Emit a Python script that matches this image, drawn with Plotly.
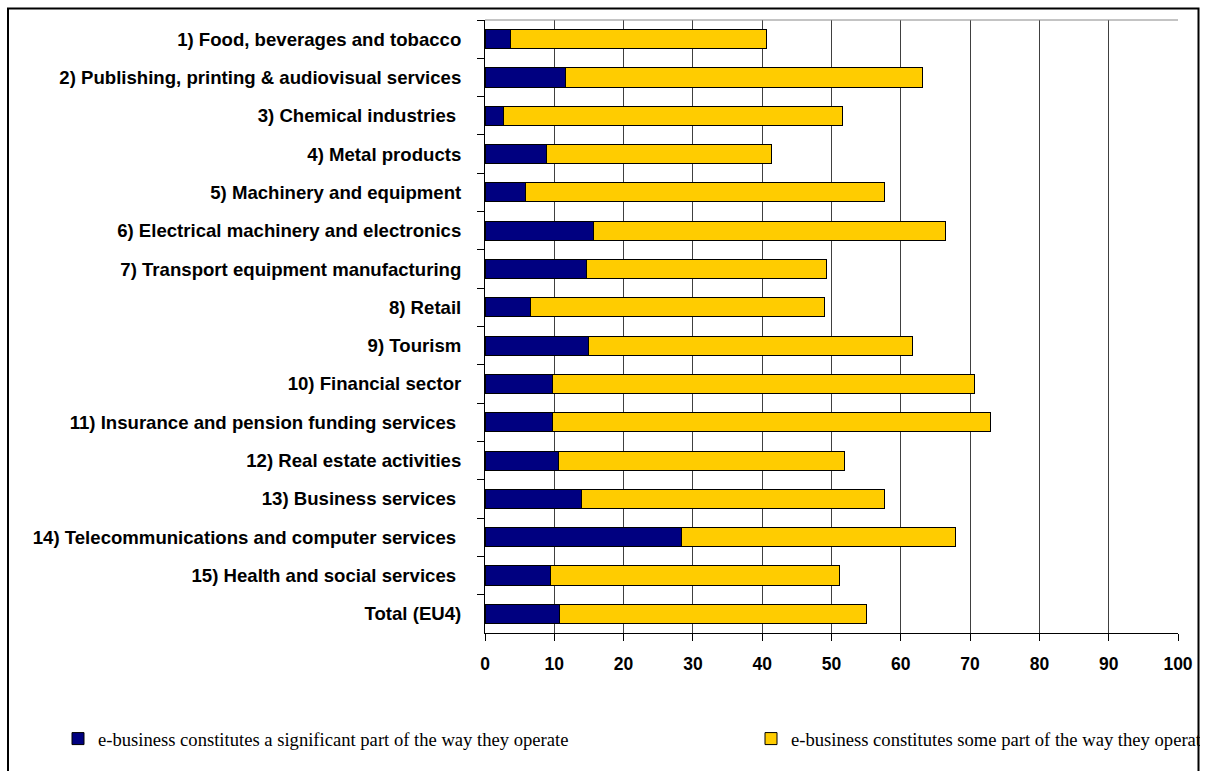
import plotly.graph_objects as go

# Sector labels, top to bottom
sectors = [
    "1) Food, beverages and tobacco",
    "2) Publishing, printing & audiovisual services",
    "3) Chemical industries ",
    "4) Metal products",
    "5) Machinery and equipment",
    "6) Electrical machinery and electronics",
    "7) Transport equipment manufacturing",
    "8) Retail",
    "9) Tourism",
    "10) Financial sector",
    "11) Insurance and pension funding services ",
    "12) Real estate activities",
    "13) Business services ",
    "14) Telecommunications and computer services ",
    "15) Health and social services ",
    "Total (EU4)",
]

# Share of enterprises (%) where e-business is a significant part of operations
significant_part = [3.7, 11.6, 2.7, 8.9, 5.8, 15.7, 14.6, 6.5, 14.9, 9.7, 9.7, 10.6, 13.9, 28.3, 9.4, 10.8]
# Share of enterprises (%) where e-business is some part of operations
some_part = [36.9, 51.5, 48.9, 32.4, 51.8, 50.8, 34.7, 42.5, 46.8, 60.9, 63.3, 41.3, 43.7, 39.6, 41.7, 44.2]

x_ticks = list(range(0, 101, 10))

name_significant = "e-business constitutes a significant part of the way they operate"
name_some = "e-business constitutes some part of the way they operate"

W, H = 1200, 771
ML, MR, MT, MB = 485, 22, 20, 138
PW, PH = W - ML - MR, H - MT - MB


def px_x(p):
    return (p - ML) / PW


def px_y(p):
    return (H - MB - p) / PH


fig = go.Figure()
fig.add_trace(go.Bar(
    y=sectors, x=significant_part, orientation="h", name=name_significant,
    marker=dict(color="#000080", line=dict(color="#000000", width=1)),
    legend="legend",
))
fig.add_trace(go.Bar(
    y=sectors, x=some_part, orientation="h", name=name_some,
    marker=dict(color="#FFCC00", line=dict(color="#000000", width=1)),
    legend="legend2",
))

legend_font = dict(family="Liberation Serif, Times New Roman, serif", size=18.6, color="#000000")

fig.update_layout(
    width=W, height=H,
    margin=dict(l=ML, r=MR, t=MT, b=MB, pad=0, autoexpand=False),
    barmode="stack",
    bargap=0.5,
    paper_bgcolor="#FFFFFF",
    plot_bgcolor="#FFFFFF",
    font=dict(family="Liberation Sans, Arial, sans-serif", color="#000000"),
    xaxis=dict(
        range=[0, 100], tickvals=x_ticks, ticktext=[str(v) for v in x_ticks],
        showgrid=True, gridcolor="#404040", gridwidth=1,
        showline=True, linecolor="#000000", linewidth=1,
        ticks="outside", ticklen=7, tickcolor="#000000",
        tickfont=dict(size=17.5, family="Liberation Sans, Arial, sans-serif", weight="bold"),
        ticklabelstandoff=8,
        zeroline=False, fixedrange=True, automargin=False,
    ),
    yaxis=dict(
        autorange="reversed", type="category",
        showgrid=False, showline=True, linecolor="#000000", linewidth=1,
        ticks="outside", ticklen=7, tickcolor="#000000", tickson="boundaries",
        tickfont=dict(size=18.6, family="Liberation Sans, Arial, sans-serif", weight="bold"),
        ticklabelstandoff=19,
        fixedrange=True, automargin=False,
    ),
    legend=dict(
        x=px_x(58), y=px_y(739), xanchor="left", yanchor="middle",
        font=legend_font, bgcolor="rgba(0,0,0,0)", itemwidth=30,
        traceorder="normal",
    ),
    legend2=dict(
        x=px_x(751), y=px_y(739), xanchor="left", yanchor="middle",
        font=legend_font, bgcolor="rgba(0,0,0,0)", itemwidth=30,
    ),
    showlegend=True,
)

# Top edge of the plotting area
fig.add_shape(type="line", xref="paper", yref="paper",
              x0=0, x1=1, y0=1, y1=1, line=dict(color="#888888", width=1))
# Outer chart frame
fig.add_shape(type="rect", xref="paper", yref="paper",
              x0=px_x(8), x1=px_x(1198.5), y0=px_y(8.5), y1=px_y(800),
              line=dict(color="#000000", width=2), fillcolor="rgba(0,0,0,0)",
              layer="above")

fig.write_html("out.html")
